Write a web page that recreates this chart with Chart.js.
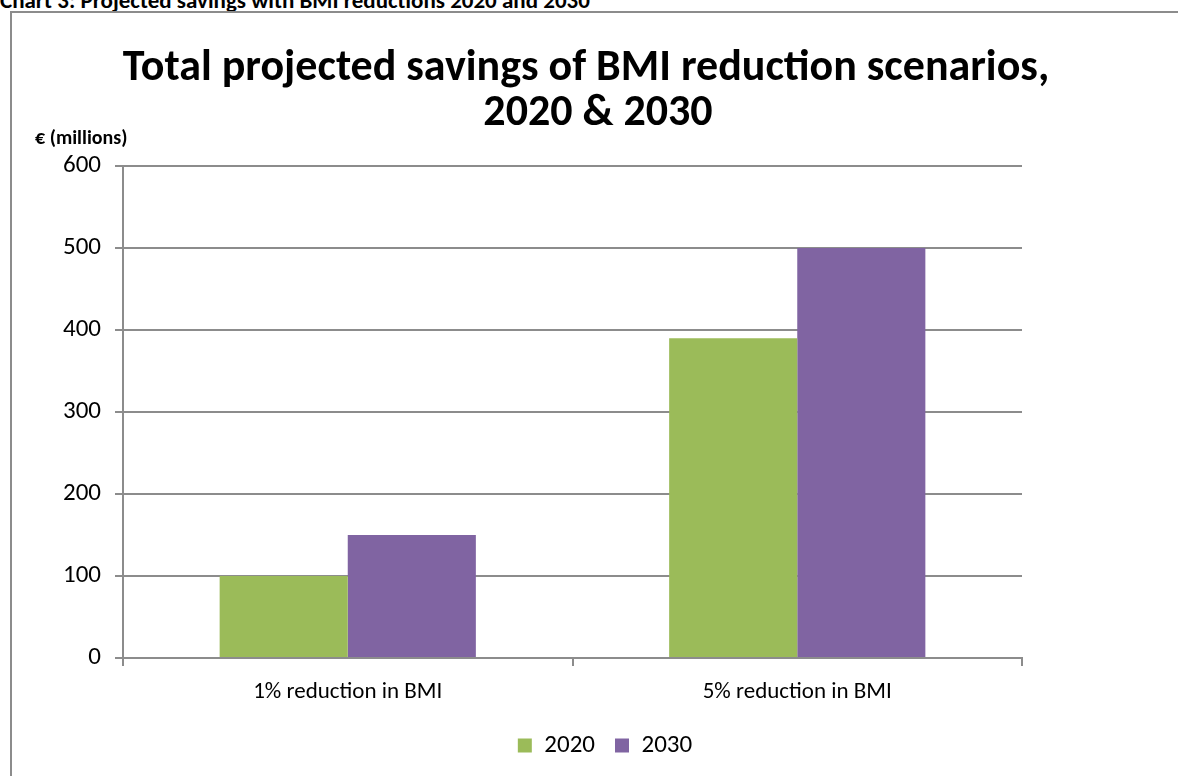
<!DOCTYPE html>
<html>
<head>
<meta charset="utf-8">
<script src="https://cdn.jsdelivr.net/npm/chart.js@4/dist/chart.umd.min.js"></script>
<style>
    body { margin: 0; background: #fff; overflow: hidden; }
    #wrap { position: relative; width: 1178px; height: 776px; }
    #heading {
        position: absolute; left: 0; top: -13px;
        font: bold 23px Calibri, Carlito, Lato, sans-serif; line-height: 26px;
        white-space: nowrap; color: #000;
    }
    #frame {
        position: absolute; left: 10px; top: 11px; width: 1200px; height: 800px;
        border-top: 2px solid #8c8c8c; border-left: 2px solid #8c8c8c;
    }
    canvas { position: absolute; left: 0; top: 0; }
</style>
</head>
<body>
<div id="wrap">
    <div id="heading">Chart 3: Projected savings with BMI reductions 2020 and 2030</div>
    <div id="frame"></div>
    <canvas id="savingsChart" width="1178" height="776"></canvas>
</div>
<script>
const FONT = 'Calibri, Carlito, Lato, sans-serif';

// Data
const categories = ['1% reduction in BMI', '5% reduction in BMI'];
const seriesLabels = ['2020', '2030'];
const savings2020 = [100, 390];
const savings2030 = [150, 500];
const titleLines = ['Total projected savings of BMI reduction scenarios,', '2020 & 2030'];
const unitLabel = '€ (millions)';

// Titles drawn on the canvas
const titlePlugin = {
    id: 'customTitle',
    afterDraw(chart) {
        const ctx = chart.ctx;
        ctx.save();
        ctx.fillStyle = '#000';
        ctx.textAlign = 'center';
        ctx.textBaseline = 'alphabetic';
        ctx.font = `bold 44px ${FONT}`;
        ctx.fillText(titleLines[0], 586, 80);
        ctx.fillText(titleLines[1], 598, 125);
        ctx.textAlign = 'left';
        ctx.font = `bold 20px ${FONT}`;
        ctx.fillText(unitLabel, 35, 144);
        ctx.restore();
    }
};

// Legend is centred on the whole frame, not just the plot width
const legendShift = {
    id: 'legendShift',
    afterLayout(chart) {
        const lg = chart.legend;
        const d = 605 - (lg.left + lg.right) / 2;
        lg.left += d;
        lg.right += d;
    }
};

new Chart(document.getElementById('savingsChart'), {
    type: 'bar',
    data: {
        labels: categories,
        datasets: [
            { label: seriesLabels[0], data: savings2020, backgroundColor: '#9BBB59', borderWidth: 0 },
            { label: seriesLabels[1], data: savings2030, backgroundColor: '#8064A2', borderWidth: 0 }
        ]
    },
    options: {
        responsive: false,
        animation: false,
        layout: { padding: { top: 166, right: 156, left: 0, bottom: 8 } },
        categoryPercentage: 0.57,
        barPercentage: 1,
        plugins: {
            title: { display: false },
            tooltip: { enabled: false },
            legend: {
                position: 'bottom',
                labels: {
                    color: '#000',
                    font: { family: FONT, size: 25 },
                    boxWidth: 14,
                    boxHeight: 14,
                    padding: 20
                }
            }
        },
        scales: {
            x: {
                grid: { offset: true, drawOnChartArea: false, tickLength: 8, color: '#8c8c8c', lineWidth: 2 },
                border: { color: '#8c8c8c', width: 2 },
                ticks: { color: '#000', font: { family: FONT, size: 23 }, padding: 12 },
                afterFit: scale => { scale.height = 55; }
            },
            y: {
                min: 0,
                max: 600,
                ticks: { stepSize: 100, color: '#000', font: { family: FONT, size: 25 }, padding: 14 },
                grid: { color: '#8c8c8c', lineWidth: 2, tickLength: 8 },
                border: { color: '#8c8c8c', width: 2 },
                afterFit: scale => { scale.width = 123; }
            }
        }
    },
    plugins: [titlePlugin, legendShift]
});
</script>
</body>
</html>
